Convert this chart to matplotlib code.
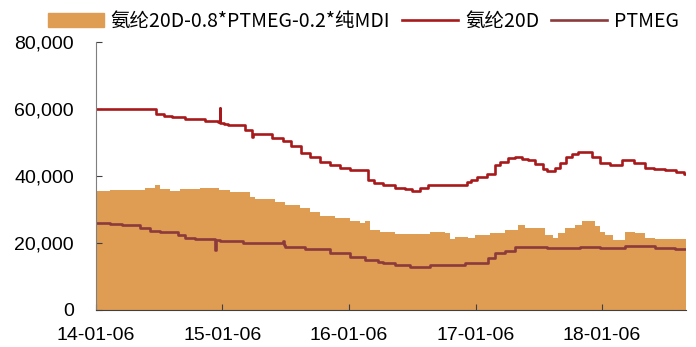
import pandas as pd
import matplotlib.pyplot as plt
import matplotlib.dates as mdates
from matplotlib.patches import Patch
from matplotlib.lines import Line2D
from matplotlib.ticker import FuncFormatter

# 氨纶20D 价格 (元/吨)
spandex_dates = ['2014-01-06', '2014-06-28', '2014-07-21', '2014-08-13', '2014-09-20',
                 '2014-11-17', '2014-12-24', '2014-12-30', '2014-12-31', '2015-01-11',
                 '2015-01-22', '2015-03-12', '2015-04-01', '2015-04-04', '2015-05-29',
                 '2015-06-30', '2015-07-23', '2015-08-21', '2015-09-16', '2015-10-15',
                 '2015-11-13', '2015-12-12', '2016-01-10', '2016-03-02', '2016-03-19',
                 '2016-04-14', '2016-05-19', '2016-06-16', '2016-07-07', '2016-07-30',
                 '2016-08-22', '2016-12-12', '2016-12-24', '2017-01-10', '2017-02-08',
                 '2017-03-03', '2017-03-18', '2017-04-10', '2017-04-30', '2017-05-20',
                 '2017-06-07', '2017-06-27', '2017-07-20', '2017-07-31', '2017-08-24',
                 '2017-09-07', '2017-09-24', '2017-10-12', '2017-10-29', '2017-12-08',
                 '2018-01-01', '2018-01-29', '2018-03-05', '2018-04-09', '2018-05-11',
                 '2018-06-05', '2018-07-07', '2018-08-08', '2018-08-31', '2018-09-06']
spandex_price = [60000, 58500, 58000, 57500, 57000,
                 56500, 56200, 60400, 55800, 55500,
                 55200, 53700, 51600, 52400, 51400,
                 50300, 48800, 46900, 45800, 44300,
                 43300, 42300, 41800, 38800, 37800,
                 37300, 36300, 36000, 35500, 36500,
                 37300, 38200, 38800, 39800, 40500,
                 43300, 44300, 45300, 45800, 45200,
                 44800, 43600, 42100, 41500, 42300,
                 43800, 45800, 46500, 47000, 45800,
                 43800, 43300, 44800, 43800, 42500,
                 42100, 41800, 41300, 40600, 40600]

# PTMEG 价格
ptmeg_dates = ['2014-01-06', '2014-02-15', '2014-03-22', '2014-05-13', '2014-06-11',
               '2014-07-10', '2014-08-31', '2014-09-20', '2014-10-19', '2014-12-16',
               '2014-12-17', '2014-12-30', '2015-03-05', '2015-06-30', '2015-07-02',
               '2015-07-06', '2015-09-02', '2015-11-13', '2016-01-10', '2016-02-22',
               '2016-03-30', '2016-04-14', '2016-05-19', '2016-07-01', '2016-08-28',
               '2016-12-07', '2017-02-11', '2017-03-03', '2017-04-01', '2017-04-30',
               '2017-07-31', '2017-11-04', '2018-01-01', '2018-03-14', '2018-06-08',
               '2018-08-05', '2018-09-06']
ptmeg_price = [26000, 25600, 25200, 24400, 23600,
               23200, 22400, 21600, 21200, 17900,
               21000, 20700, 19900, 20500, 19500,
               18900, 18200, 16900, 15900, 14900,
               14400, 13900, 13400, 12900, 13400,
               14100, 15400, 17100, 17700, 18900,
               18400, 18900, 18600, 19200, 18600,
               18100, 18100]

# 价差: 氨纶20D-0.8*PTMEG-0.2*纯MDI
spread_dates = ['2014-01-06', '2014-02-15', '2014-05-28', '2014-06-25', '2014-07-10',
                '2014-08-08', '2014-09-06', '2014-11-02', '2014-12-27', '2014-12-28',
                '2015-01-28', '2015-03-27', '2015-04-10', '2015-06-07', '2015-07-06',
                '2015-08-18', '2015-09-16', '2015-10-15', '2015-11-27', '2016-01-10',
                '2016-02-07', '2016-02-22', '2016-03-07', '2016-04-05', '2016-05-19',
                '2016-08-28', '2016-10-10', '2016-10-24', '2016-11-08', '2016-12-15',
                '2017-01-05', '2017-02-17', '2017-04-01', '2017-05-09', '2017-05-29',
                '2017-07-26', '2017-08-18', '2017-09-01', '2017-09-21', '2017-10-20',
                '2017-11-10', '2017-12-17', '2018-01-01', '2018-01-15', '2018-02-07',
                '2018-03-14', '2018-04-12', '2018-05-11', '2018-06-08', '2018-07-07',
                '2018-09-06']
spread_value = [35500, 35800, 36500, 37300, 36200,
                35500, 36000, 36300, 39800, 35800,
                35100, 33800, 33000, 32300, 31300,
                30300, 29300, 28100, 27400, 26400,
                25900, 26600, 23900, 23200, 22600,
                23400, 22900, 21200, 21900, 21600,
                22400, 22900, 23900, 25200, 24400,
                22400, 21400, 22900, 24400, 25400,
                26400, 24900, 23400, 22400, 20900,
                23400, 22900, 21400, 21200, 21100,
                20900]

labels = ['氨纶20D-0.8*PTMEG-0.2*纯MDI', '氨纶20D', 'PTMEG']

fill_color = '#DF9C53'
red = '#A8191B'
brown = '#8C3A3C'

fig = plt.figure(figsize=(6.96, 3.47), dpi=100)
ax = fig.add_axes([0.138, 0.107, 0.848, 0.772])

spread_x = pd.to_datetime(spread_dates)
ax.fill_between(spread_x, spread_value, 0, step='post', color=fill_color, linewidth=0)
ax.step(pd.to_datetime(spandex_dates), spandex_price, where='post', color=red, linewidth=1.9)
ax.step(pd.to_datetime(ptmeg_dates), ptmeg_price, where='post', color=brown, linewidth=1.9)

ax.set_xlim(pd.Timestamp('2014-01-06'), pd.Timestamp('2018-09-06'))
ax.set_ylim(0, 80000)
ax.set_yticks([0, 20000, 40000, 60000, 80000])
ax.yaxis.set_major_formatter(FuncFormatter(lambda v, p: f'{int(v):,}'))
ax.set_xticks(pd.to_datetime(['2014-01-06', '2015-01-06', '2016-01-06', '2017-01-06', '2018-01-06']))
ax.xaxis.set_major_formatter(mdates.DateFormatter('%y-%m-%d'))

for s in ['top', 'right']:
    ax.spines[s].set_visible(False)
ax.spines['left'].set_color('#7f7f7f')
ax.spines['bottom'].set_color('#404040')
ax.tick_params(direction='in', length=4, color='#404040', labelsize=14)
ax.tick_params(axis='y', pad=16)
ax.tick_params(axis='x', pad=12)
for lab in ax.get_xticklabels() + ax.get_yticklabels():
    lab.set_family('Liberation Sans')

handles = [Patch(color=fill_color),
           Line2D([], [], color=red, linewidth=1.9),
           Line2D([], [], color=brown, linewidth=1.9)]
fig.legend(handles, labels, loc='upper center', bbox_to_anchor=(0.522, 1.02), ncol=3,
           frameon=False, handlelength=2.9, handletextpad=0.35, columnspacing=0.6,
           prop={'family': 'Noto Sans CJK SC', 'size': 14})

fig.savefig('out.png', dpi=100)
